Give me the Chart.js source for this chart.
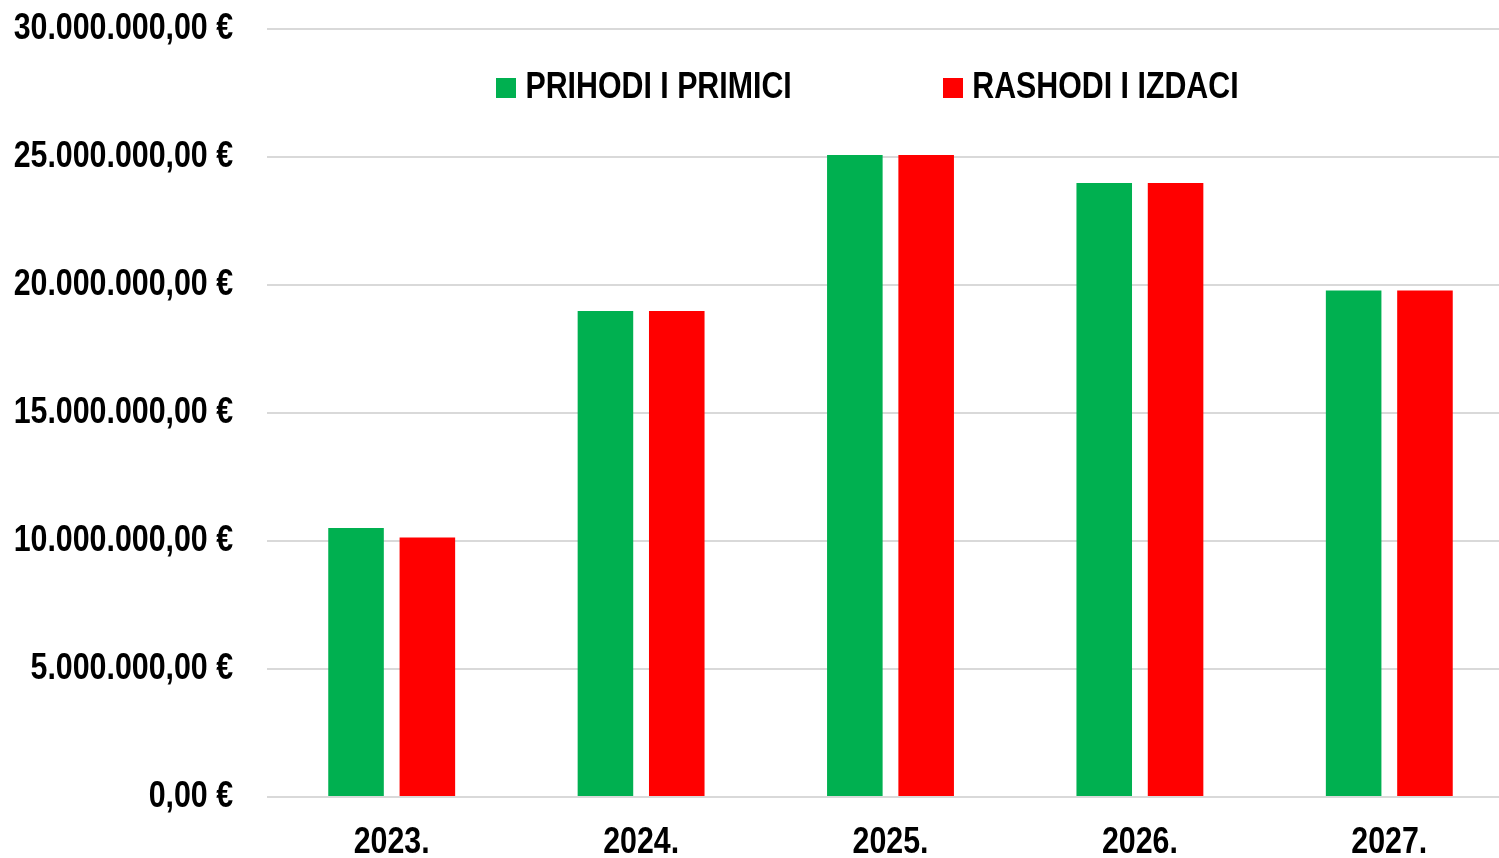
<!DOCTYPE html>
<html>
<head>
<meta charset="utf-8">
<script src="https://cdn.jsdelivr.net/npm/chart.js@4/dist/chart.umd.min.js"></script>
<style>
html,body{margin:0;padding:0;background:#fff;overflow:hidden;}
#wrap{width:1514px;height:888px;}
</style>
</head>
<body>
<div id="wrap"><canvas id="c" width="1514" height="888"></canvas></div>
<script>
const categories = ['2023.', '2024.', '2025.', '2026.', '2027.'];
const seriesNames = ['PRIHODI I PRIMICI', 'RASHODI I IZDACI'];
const prihodi = [10510000, 18980000, 25080000, 23980000, 19790000];
const rashodi = [10140000, 18980000, 25080000, 23980000, 19790000];
const seriesColors = ['#00B050', '#FF0000'];
const yMin = 0, yMax = 30000000, yStep = 5000000;

// Narrow bold look (Arial Narrow style): Liberation Sans Bold drawn at 82% width.
const NARROW = 'NarrowSim';
const SX = 0.82;
const FONT = NARROW + ", 'Liberation Sans', Arial, sans-serif";
(function () {
  const P = CanvasRenderingContext2D.prototype;
  const of = P.fillText, om = P.measureText;
  P.fillText = function (t, x, y, mw) {
    if (this.font.indexOf(NARROW) < 0) {
      return mw === undefined ? of.call(this, t, x, y) : of.call(this, t, x, y, mw);
    }
    this.save();
    this.translate(x, y);
    this.scale(SX, 1);
    if (mw === undefined) of.call(this, t, 0, 0); else of.call(this, t, 0, 0, mw / SX);
    this.restore();
  };
  P.measureText = function (t) {
    const m = om.call(this, t);
    if (this.font.indexOf(NARROW) < 0) return m;
    return {
      width: m.width * SX,
      actualBoundingBoxLeft: m.actualBoundingBoxLeft * SX,
      actualBoundingBoxRight: m.actualBoundingBoxRight * SX,
      actualBoundingBoxAscent: m.actualBoundingBoxAscent,
      actualBoundingBoxDescent: m.actualBoundingBoxDescent
    };
  };
})();

function fmtEuro(v) {
  const parts = Math.abs(v).toFixed(2).split('.');
  const intPart = parts[0].replace(/\B(?=(\d{3})+(?!\d))/g, '.');
  return (v < 0 ? '-' : '') + intPart + ',' + parts[1] + ' €';
}

function boxImg(color) {
  const c = document.createElement('canvas');
  c.width = 20; c.height = 20;
  const g = c.getContext('2d');
  g.fillStyle = color;
  g.fillRect(0, 0, 20, 20);
  return c;
}

function wrapLegend(chart) {
  const lg = chart.legend;
  if (!lg || lg._wrapped) return;
  const orig = lg.fit.bind(lg);
  lg.fit = function () { orig(); this.height = 0; };
  lg._wrapped = true;
}

const legendTweak = {
  id: 'legendTweak',
  afterInit(chart) { wrapLegend(chart); },
  beforeLayout(chart) { wrapLegend(chart); },
  afterLayout(chart) {
    const lg = chart.legend;
    if (!lg) return;
    lg.left = 230.5;
    lg.right = 1514;
    lg.width = lg.right - lg.left;
    lg.top = -92;
    lg.bottom = 300;
    lg.height = lg.bottom - lg.top;
  }
};

new Chart(document.getElementById('c'), {
  type: 'bar',
  data: {
    labels: categories,
    datasets: [
      { label: seriesNames[0], data: prihodi, backgroundColor: seriesColors[0], borderWidth: 0 },
      { label: seriesNames[1], data: rashodi, backgroundColor: seriesColors[1], borderWidth: 0 }
    ]
  },
  options: {
    responsive: false,
    animation: false,
    devicePixelRatio: 1,
    categoryPercentage: 0.572,
    barPercentage: 0.779,
    layout: { padding: { top: 29, left: 0, right: 0, bottom: 0 } },
    plugins: {
      tooltip: { enabled: false },
      legend: {
        display: true,
        position: 'top',
        align: 'center',
        labels: {
          usePointStyle: true,
          pointStyleWidth: 1,
          padding: 161,
          color: '#000',
          font: { family: FONT, size: 37, weight: 'bold' },
          generateLabels(chart) {
            return chart.data.datasets.map((ds, i) => ({
              text: ds.label,
              fillStyle: ds.backgroundColor,
              strokeStyle: ds.backgroundColor,
              lineWidth: 0,
              pointStyle: boxImg(ds.backgroundColor),
              hidden: false,
              datasetIndex: i,
              fontColor: '#000'
            }));
          }
        }
      }
    },
    scales: {
      x: {
        grid: { display: false, drawTicks: false },
        border: { display: false },
        ticks: {
          color: '#000',
          padding: 23.3,
          maxRotation: 0,
          font: { family: FONT, size: 37, weight: 'bold' }
        }
      },
      y: {
        min: yMin,
        max: yMax,
        afterFit(s) { s.width = 267; s.paddingTop = 0; s.paddingBottom = 0; },
        grid: { color: '#D9D9D9', lineWidth: 2, drawTicks: false },
        border: { display: false },
        ticks: {
          stepSize: yStep,
          color: '#000',
          padding: 34,
          font: { family: FONT, size: 37, weight: 'bold' },
          callback: (v) => fmtEuro(v)
        }
      }
    }
  },
  plugins: [legendTweak]
});
</script>
</body>
</html>
